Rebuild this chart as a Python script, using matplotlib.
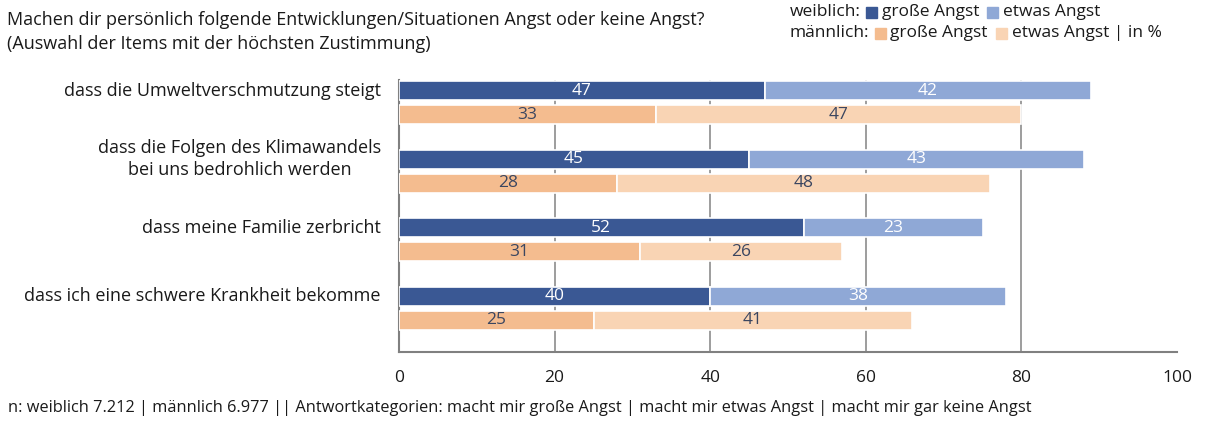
"""
Ängste von Jugendlichen: weiblich vs. männlich, gestapelte Balken.
"""

import matplotlib
matplotlib.use("Agg")
import matplotlib.pyplot as plt
from matplotlib.patches import Rectangle

# Daten
categories = ["dass die Umweltverschmutzung steigt",
              "dass die Folgen des Klimawandels\nbei uns bedrohlich werden",
              "dass meine Familie zerbricht",
              "dass ich eine schwere Krankheit bekomme"]
w_gross = [47, 45, 52, 40]
w_etwas = [42, 43, 23, 38]
m_gross = [33, 28, 31, 25]
m_etwas = [47, 48, 26, 41]
x_ticks = [0, 20, 40, 60, 80, 100]

C_WG = "#3a5894"
C_WE = "#8fa8d6"
C_MG = "#f4bc8f"
C_ME = "#f9d4b4"
TXT_DARK = "#3b4660"
TXT = "#1a1a1a"
GRID = "#8c8c8c"
FS = 13
FS_LEG = 12.5

plt.rcParams["font.family"] = ["Open Sans", "DejaVu Sans"]

W, H = 1212, 421
fig = plt.figure(figsize=(W / 100, H / 100), dpi=100)
# axes: x 399..1177, y 80..352 (pixels from top)
ax = fig.add_axes([399 / W, 1 - 352 / H, (1177 - 399) / W, (352 - 80) / H])

bar_h = 0.28
off = 0.175
ys = list(range(len(categories)))
yf = [y - off for y in ys]
ym = [y + off for y in ys]

ax.barh(yf, w_gross, height=bar_h, color=C_WG, edgecolor="white", linewidth=1.2, zorder=3)
ax.barh(yf, w_etwas, left=w_gross, height=bar_h, color=C_WE, edgecolor="white", linewidth=1.2, zorder=3)
ax.barh(ym, m_gross, height=bar_h, color=C_MG, edgecolor="white", linewidth=1.2, zorder=3)
ax.barh(ym, m_etwas, left=m_gross, height=bar_h, color=C_ME, edgecolor="white", linewidth=1.2, zorder=3)

# Werte in die Balken
for i in ys:
    ax.text(w_gross[i] / 2, yf[i], str(w_gross[i]), ha="center", va="center",
            color="white", fontsize=12.5, zorder=4)
    ax.text(w_gross[i] + w_etwas[i] / 2, yf[i], str(w_etwas[i]), ha="center", va="center",
            color="white", fontsize=12.5, zorder=4)
    ax.text(m_gross[i] / 2, ym[i], str(m_gross[i]), ha="center", va="center",
            color=TXT_DARK, fontsize=12.5, zorder=4)
    ax.text(m_gross[i] + m_etwas[i] / 2, ym[i], str(m_etwas[i]), ha="center", va="center",
            color=TXT_DARK, fontsize=12.5, zorder=4)

ax.set_xlim(0, 100)
ax.set_ylim(3.64, -0.33)
ax.set_xticks(x_ticks)
ax.set_xticklabels([str(t) for t in x_ticks], fontsize=12.5, color=TXT)
ax.tick_params(axis="x", length=0, pad=13)
# Beschriftung auf Höhe des oberen (weiblich) Balkens
ax.set_yticks(yf)
ax.set_yticklabels(categories, fontsize=FS, color=TXT, ha="right", va="center",
                   multialignment="center", linespacing=1.3)
ax.tick_params(axis="y", length=0, pad=13)

for t in x_ticks[1:-1]:
    ax.axvline(t, color=GRID, linewidth=1.2, zorder=1)

for s in ["top", "right"]:
    ax.spines[s].set_visible(False)
ax.spines["left"].set_color("#808080")
ax.spines["left"].set_linewidth(1.5)
ax.spines["bottom"].set_color("#808080")
ax.spines["bottom"].set_linewidth(1.5)


def px(x, y):
    return x / W, 1 - y / H


# Frage
fig.text(*px(7, 20), "Machen dir persönlich folgende Entwicklungen/Situationen Angst oder keine Angst?",
         fontsize=FS, va="center", ha="left", color=TXT)
fig.text(*px(7, 44), "(Auswahl der Items mit der höchsten Zustimmung)",
         fontsize=FS, va="center", ha="left", color=TXT)

# Legende: Stücke nacheinander setzen, Breiten vom Renderer holen
renderer = fig.canvas.get_renderer()


def text_width(s):
    t = fig.text(0, 0, s, fontsize=FS_LEG)
    w = t.get_window_extent(renderer).width
    t.remove()
    return w


legend_rows = [(12, "weiblich:", [(C_WG, "große Angst"), (C_WE, "etwas Angst")]),
               (33, "männlich:", [(C_MG, "große Angst"), (C_ME, "etwas Angst | in %")])]

LEG_X = 790
for y, label, items in legend_rows:
    x = LEG_X
    fig.text(*px(x, y), label, fontsize=FS_LEG, va="center", ha="left", color=TXT)
    x += text_width(label) + 5
    for color, text in items:
        fig.patches.append(Rectangle(px(x, y + 6), 11 / W, 11 / H, color=color,
                                     transform=fig.transFigure, figure=fig))
        x += 11 + 5
        fig.text(*px(x, y), text, fontsize=FS_LEG, va="center", ha="left", color=TXT)
        x += text_width(text) + 8

fig.text(*px(8, 408),
         "n: weiblich 7.212 | männlich 6.977 || Antwortkategorien: macht mir große Angst | "
         "macht mir etwas Angst | macht mir gar keine Angst",
         fontsize=11.8, va="center", ha="left", color=TXT)

fig.savefig("out.png", dpi=100)
